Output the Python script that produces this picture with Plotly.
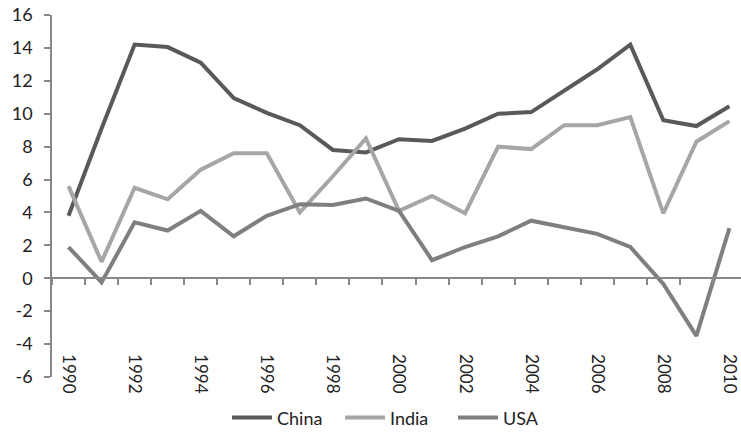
import plotly.graph_objects as go

years = list(range(1990, 2011))
china = [3.8, 9.1, 14.2, 14.05, 13.1, 10.95, 10.05, 9.3, 7.8, 7.65, 8.45, 8.35, 9.1, 10.0, 10.1, 11.4, 12.7, 14.2, 9.6, 9.25, 10.45]
india = [5.6, 1.0, 5.5, 4.8, 6.6, 7.6, 7.6, 4.0, 6.2, 8.5, 4.1, 5.0, 3.95, 8.0, 7.85, 9.3, 9.3, 9.8, 3.95, 8.3, 9.55]
usa = [1.9, -0.25, 3.4, 2.9, 4.1, 2.55, 3.8, 4.5, 4.45, 4.85, 4.1, 1.1, 1.9, 2.55, 3.5, 3.1, 2.7, 1.9, -0.35, -3.5, 3.05]
y_ticks = list(range(-6, 17, 2))
y_labels = [str(v) for v in y_ticks]
year_labels = list(range(1990, 2011, 2))

colors = {"China": "#595959", "India": "#a6a6a6", "USA": "#7f7f7f"}
FONT = "Lato"

fig = go.Figure()
for name, vals in [("China", china), ("India", india), ("USA", usa)]:
    fig.add_trace(go.Scatter(x=years, y=vals, mode="lines", name=name,
                             line=dict(color=colors[name], width=4)))

ymin, ymax = -6, 16
xr = [1989.5, 2010.35]
fig.update_layout(
    width=741, height=438,
    margin=dict(l=52, r=0, t=15, b=61, autoexpand=False),
    paper_bgcolor="white", plot_bgcolor="white",
    font=dict(family=FONT, size=18, color="#222222"),
    showlegend=True,
    legend=dict(orientation="h", x=0.5, xanchor="center", y=-0.113, yanchor="middle",
                font=dict(size=18, color="#222222"), tracegroupgap=0, itemwidth=40,
                entrywidth=58),
    xaxis=dict(range=xr, anchor="free", position=(0 - ymin) / (ymax - ymin),
               showline=True, linecolor="#888888", linewidth=1.5,
               ticks="outside", ticklen=6, tickcolor="#888888", tickwidth=1.5,
               tickvals=[y + 0.5 for y in range(1989, 2010)],
               showticklabels=False, showgrid=False, zeroline=False, automargin=False),
    xaxis2=dict(range=xr, overlaying="x", anchor="free", position=0.066, side="bottom",
                showline=False, ticks="", tickvals=year_labels,
                ticktext=[str(y) for y in year_labels], tickangle=90,
                ticklabeloverflow="allow",
                showgrid=False, zeroline=False, tickfont=dict(size=17), automargin=False),
    yaxis=dict(range=[ymin, ymax], tickvals=y_ticks, ticktext=y_labels, showline=True,
               linecolor="#888888", linewidth=1.5, ticks="outside", ticklen=6,
               tickcolor="#888888", tickwidth=1.5,
               showgrid=False, zeroline=False, ticklabelstandoff=8,
               tickfont=dict(size=18), automargin=False),
)
fig.add_trace(go.Scatter(x=[years[0]], y=[china[0]], xaxis="x2", mode="markers",
                         marker=dict(opacity=0), showlegend=False, hoverinfo="skip"))
fig.write_html("out.html", config={"displayModeBar": False},
               post_script="document.body.style.margin='0';document.body.style.overflow='hidden';")
